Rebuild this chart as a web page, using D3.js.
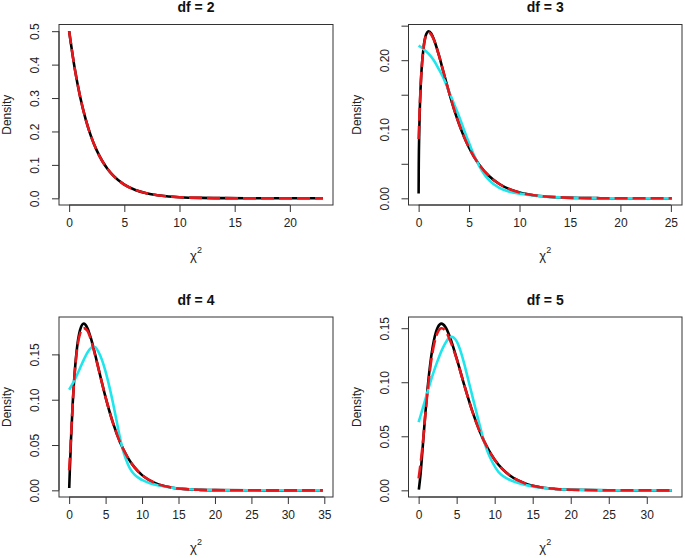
<!DOCTYPE html>
<html>
<head>
<meta charset="utf-8">
<script src="https://cdn.jsdelivr.net/npm/d3@7"></script>
<style>
  html, body { margin: 0; padding: 0; background: #fff; }
  svg { display: block; font-family: "Liberation Sans", Arial, Helvetica, sans-serif; }
</style>
</head>
<body>
<svg id="chart" width="685" height="558"></svg>
<script>
// ---------------- data ----------------
const panelTitles = ["df = 2", "df = 3", "df = 4", "df = 5"];
const xDataMax = [22.99, 25.1, 34.8, 33.3];
const yDataMax = [0.5, 0.242, 0.1839, 0.1542];

const xTicks = [
  [0, 5, 10, 15, 20],
  [0, 5, 10, 15, 20, 25],
  [0, 5, 10, 15, 20, 25, 30, 35],
  [0, 5, 10, 15, 20, 25, 30]
];
const yTicks = [
  [0, 0.1, 0.2, 0.3, 0.4, 0.5],
  [0, 0.05, 0.10, 0.15, 0.20, 0.25],
  [0, 0.05, 0.10, 0.15],
  [0, 0.05, 0.10, 0.15]
];
const yTickLabels = [
  ["0.0", "0.1", "0.2", "0.3", "0.4", "0.5"],
  ["0.00", "", "0.10", "", "0.20", ""],
  ["0.00", "0.05", "0.10", "0.15"],
  ["0.00", "0.05", "0.10", "0.15"]
];

// df = 2
const df2_x = [0, 0.5, 1, 1.5, 2, 2.5, 3, 3.5, 4, 5, 6, 7, 8, 9, 10, 12, 14, 16, 18, 20, 23];
const df2_black = [0.5, 0.3894, 0.3033, 0.2362, 0.1839, 0.1433, 0.1116, 0.0869, 0.0677, 0.0410, 0.0249, 0.0151, 0.0092, 0.0056, 0.0034, 0.0012, 0.00046, 0.00017, 0.00006, 0.00002, 0.000005];
const df2_red = [0.5, 0.3894, 0.3033, 0.2362, 0.1839, 0.1433, 0.1116, 0.0869, 0.0677, 0.0410, 0.0249, 0.0151, 0.0092, 0.0056, 0.0034, 0.0012, 0.00046, 0.00017, 0.00006, 0.00002, 0.000005];

// df = 3
const df3_xBlack = [0.0003, 0.01, 0.05, 0.1, 0.2, 0.3, 0.5, 0.75, 1, 1.25, 1.5, 2, 2.5, 3, 3.5, 4, 4.5, 5, 6, 7, 8, 9, 10, 12, 14, 16, 18, 20, 22, 25.1];
const df3_black = [0.0069, 0.0397, 0.0870, 0.1200, 0.1614, 0.1881, 0.2197, 0.2375, 0.2420, 0.2388, 0.2308, 0.2076, 0.1807, 0.1542, 0.1297, 0.1080, 0.0892, 0.0732, 0.0487, 0.0319, 0.0207, 0.0133, 0.0085, 0.0034, 0.0014, 0.0005, 0.0002, 0.00008, 0.00003, 0.000007];
const df3_xRed = [0, 0.1, 0.2, 0.3, 0.5, 0.75, 1, 1.25, 1.5, 2, 2.5, 3, 3.5, 4, 4.5, 5, 6, 7, 8, 9, 10, 12, 14, 16, 18, 20, 22, 25.1];
const df3_red = [0.086, 0.128, 0.163, 0.188, 0.219, 0.236, 0.240, 0.237, 0.230, 0.2076, 0.1807, 0.1542, 0.1297, 0.1080, 0.0892, 0.0732, 0.0487, 0.0319, 0.0207, 0.0133, 0.0085, 0.0034, 0.0014, 0.0005, 0.0002, 0.00008, 0.00003, 0.000007];
const df3_xCyan = [0, 0.5, 1, 1.5, 2, 2.5, 3, 3.5, 4, 4.5, 5, 5.5, 6, 6.5, 7, 8, 9, 10, 12, 14, 16, 18, 20, 25.1];
const df3_cyan = [0.221, 0.216, 0.209, 0.200, 0.187, 0.173, 0.155, 0.137, 0.119, 0.099, 0.080, 0.062, 0.047, 0.035, 0.026, 0.015, 0.0095, 0.0068, 0.0032, 0.0013, 0.0005, 0.0002, 0.0001, 0.000007];

// df = 4
const df4_xBlack = [0.01, 0.1, 0.25, 0.5, 0.75, 1, 1.5, 2, 2.5, 3, 3.5, 4, 5, 6, 7, 8, 9, 10, 12, 14, 16, 18, 20, 25, 30, 34.8];
const df4_black = [0.0025, 0.0238, 0.0552, 0.0974, 0.1289, 0.1516, 0.1771, 0.1839, 0.1791, 0.1673, 0.1521, 0.1353, 0.1026, 0.0747, 0.0528, 0.0366, 0.0250, 0.0168, 0.0074, 0.0032, 0.0013, 0.00055, 0.00023, 0.00002, 0.000002, 0];
const df4_xRed = [0, 0.25, 0.5, 0.75, 1, 1.5, 2, 2.5, 3, 3.5, 4, 5, 6, 7, 8, 9, 10, 12, 14, 16, 18, 20, 25, 30, 34.8];
const df4_red = [0.022, 0.058, 0.097, 0.128, 0.150, 0.173, 0.179, 0.176, 0.166, 0.151, 0.135, 0.1026, 0.0747, 0.0528, 0.0366, 0.0250, 0.0168, 0.0074, 0.0032, 0.0013, 0.00055, 0.00023, 0.00002, 0.000002, 0];
const df4_xCyan = [0, 0.5, 1, 1.5, 2, 2.5, 3, 3.3, 3.6, 4, 4.5, 5, 5.5, 6, 6.5, 7, 7.5, 8, 8.5, 9, 10, 11, 12.5, 15, 18, 22, 28, 34.8];
const df4_cyan = [0.111, 0.118, 0.126, 0.135, 0.144, 0.152, 0.157, 0.1585, 0.158, 0.153, 0.144, 0.131, 0.115, 0.097, 0.077, 0.057, 0.041, 0.030, 0.022, 0.017, 0.0115, 0.008, 0.005, 0.002, 0.0006, 0.0001, 0.00001, 0];

// df = 5
const df5_xBlack = [0.03, 0.25, 0.5, 0.75, 1, 1.5, 2, 2.5, 3, 3.5, 4, 5, 6, 7, 8, 9, 10, 11, 12, 14, 16, 18, 20, 25, 33.3];
const df5_black = [0.0007, 0.0147, 0.0366, 0.0594, 0.0807, 0.1154, 0.1384, 0.1506, 0.1542, 0.1513, 0.1440, 0.1220, 0.0973, 0.0744, 0.0551, 0.0399, 0.0283, 0.0198, 0.0137, 0.0064, 0.0029, 0.0013, 0.0005, 0.00006, 0];
const df5_xRed = [0, 0.5, 1, 1.5, 2, 2.5, 3, 3.5, 4, 5, 6, 7, 8, 9, 10, 11, 12, 14, 16, 18, 20, 25, 33.3];
const df5_red = [0.011, 0.040, 0.079, 0.112, 0.134, 0.146, 0.150, 0.148, 0.141, 0.1215, 0.0973, 0.0744, 0.0551, 0.0399, 0.0283, 0.0198, 0.0137, 0.0064, 0.0029, 0.0013, 0.0005, 0.00006, 0];
const df5_xCyan = [0, 0.5, 1, 1.5, 2, 2.5, 3, 3.5, 4, 4.4, 4.8, 5.2, 5.6, 6, 6.5, 7, 7.5, 8, 8.5, 9, 9.7, 10.5, 11.6, 13, 14.3, 16, 18, 20, 25, 33.3];
const df5_cyan = [0.063, 0.075, 0.087, 0.099, 0.110, 0.120, 0.129, 0.136, 0.141, 0.142, 0.140, 0.135, 0.127, 0.117, 0.103, 0.089, 0.075, 0.061, 0.048, 0.037, 0.026, 0.017, 0.011, 0.007, 0.0046, 0.0025, 0.0012, 0.0005, 0.00005, 0];

// ---------------- layout & styles ----------------
const boxes = [
  { L: 59, R: 333, T: 24.5, B: 205 },
  { L: 408.5, R: 682, T: 24.5, B: 205 },
  { L: 59, R: 333, T: 317, B: 497 },
  { L: 408.5, R: 682, T: 317, B: 497 }
];
const COL_BLACK = "#000000", COL_RED = "#e8161b", COL_CYAN = "#1fe6ec";

const panelSeries = [
  [ { x: df2_x, y: df2_black, c: COL_BLACK, dash: null },
    { x: df2_x, y: df2_red, c: COL_RED, dash: "13,5" } ],
  [ { x: df3_xBlack, y: df3_black, c: COL_BLACK, dash: null },
    { x: df3_xCyan, y: df3_cyan, c: COL_CYAN, dash: null },
    { x: df3_xRed, y: df3_red, c: COL_RED, dash: "13,5" } ],
  [ { x: df4_xBlack, y: df4_black, c: COL_BLACK, dash: null },
    { x: df4_xCyan, y: df4_cyan, c: COL_CYAN, dash: null },
    { x: df4_xRed, y: df4_red, c: COL_RED, dash: "13,5" } ],
  [ { x: df5_xBlack, y: df5_black, c: COL_BLACK, dash: null },
    { x: df5_xCyan, y: df5_cyan, c: COL_CYAN, dash: null },
    { x: df5_xRed, y: df5_red, c: COL_RED, dash: "13,5" } ]
];

const svg = d3.select("#chart");

boxes.forEach((b, i) => {
  const xr = xDataMax[i], yr = yDataMax[i];
  const x = d3.scaleLinear().domain([-0.04 * xr, 1.04 * xr]).range([b.L, b.R]);
  const y = d3.scaleLinear().domain([-0.04 * yr, 1.04 * yr]).range([b.B, b.T]);
  const g = svg.append("g");

  const clipId = "clip" + i;
  svg.append("clipPath").attr("id", clipId)
    .append("rect").attr("x", b.L).attr("y", b.T).attr("width", b.R - b.L).attr("height", b.B - b.T);

  const line = d3.line().x(d => x(d[0])).y(d => y(d[1])).curve(d3.curveMonotoneX);
  const cg = g.append("g").attr("clip-path", `url(#${clipId})`);
  panelSeries[i].forEach(s => {
    const pts = s.x.map((v, k) => [v, s.y[k]]);
    cg.append("path").attr("d", line(pts))
      .attr("fill", "none").attr("stroke", s.c).attr("stroke-width", 2.6)
      .attr("stroke-linejoin", "round")
      .attr("stroke-dasharray", s.dash);
  });

  g.append("rect").attr("x", b.L).attr("y", b.T).attr("width", b.R - b.L).attr("height", b.B - b.T)
    .attr("fill", "none").attr("stroke", "#333").attr("stroke-width", 1);

  const xa = g.append("g").attr("transform", `translate(0,${b.B})`)
    .call(d3.axisBottom(x).tickValues(xTicks[i]).tickSize(7).tickPadding(6).tickFormat(d3.format("d")));
  xa.select(".domain").attr("stroke", "#333")
    .attr("d", `M${x(xTicks[i][0])},0H${x(xTicks[i][xTicks[i].length - 1])}`);
  xa.selectAll(".tick line").attr("stroke", "#333");
  xa.selectAll(".tick text").attr("font-size", 12).attr("fill", "#222")
    .attr("font-family", "Liberation Sans, Arial, sans-serif");

  const labels = yTickLabels[i];
  const ya = g.append("g").attr("transform", `translate(${b.L},0)`)
    .call(d3.axisLeft(y).tickValues(yTicks[i]).tickSize(7).tickFormat((d, k) => labels[k]));
  ya.select(".domain").attr("stroke", "#333")
    .attr("d", `M0,${y(yTicks[i][0])}V${y(yTicks[i][yTicks[i].length - 1])}`);
  ya.selectAll(".tick line").attr("stroke", "#333");
  ya.selectAll(".tick text")
    .attr("font-size", 12).attr("fill", "#222")
    .attr("font-family", "Liberation Sans, Arial, sans-serif")
    .attr("x", null).attr("dy", null)
    .attr("text-anchor", "middle")
    .attr("dominant-baseline", "central")
    .attr("transform", "translate(-24,0) rotate(-90)");

  g.append("text").attr("x", (b.L + b.R) / 2).attr("y", b.T - 12.5)
    .attr("text-anchor", "middle").attr("font-size", 14).attr("font-weight", "bold")
    .attr("fill", "#111").text(panelTitles[i]);

  g.append("text")
    .attr("transform", `translate(${b.L - 52},${(b.T + b.B) / 2}) rotate(-90)`)
    .attr("text-anchor", "middle").attr("dominant-baseline", "central")
    .attr("font-size", 12).attr("fill", "#222").text("Density");

  const xl = g.append("text").attr("x", (b.L + b.R) / 2).attr("y", b.B + 55)
    .attr("text-anchor", "middle").attr("font-size", 13).attr("fill", "#222");
  xl.append("tspan").text("χ");
  xl.append("tspan").attr("font-size", 9).attr("dy", -7).text("2");
});
</script>
</body>
</html>
